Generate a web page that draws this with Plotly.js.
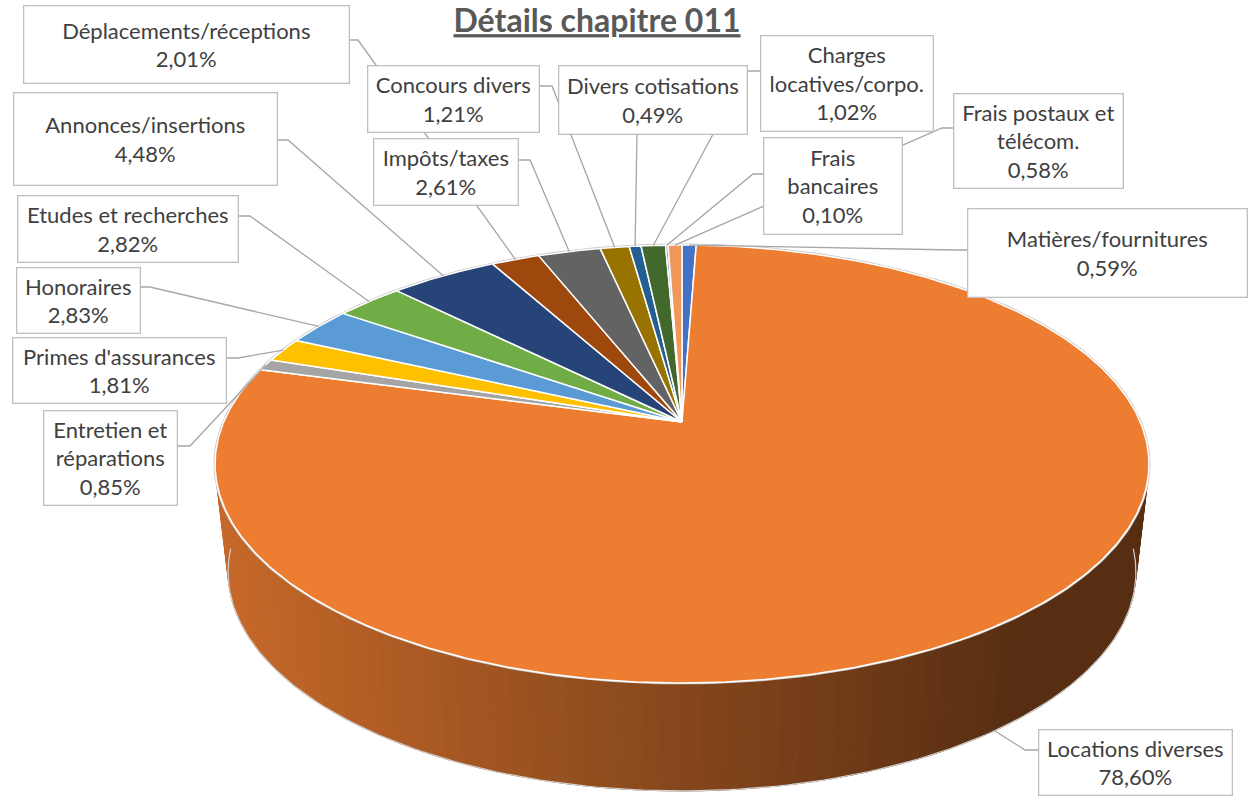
<!DOCTYPE html>
<html><head><meta charset="utf-8">
<script src="https://cdn.plot.ly/plotly-3.0.1.min.js"></script>
<style>html,body{margin:0;padding:0;background:#fff;overflow:hidden}#chart{width:1249px;height:801px}</style>
</head><body><div id="chart"></div>
<script>
// ---------- data ----------
const chartTitle = "Détails chapitre 011";
const categories = ["Matières/fournitures","Locations diverses","Entretien et réparations","Primes d'assurances","Honoraires","Etudes et recherches","Annonces/insertions","Déplacements/réceptions","Impôts/taxes","Concours divers","Divers cotisations","Charges locatives/corpo.","Frais bancaires","Frais postaux et télécom."];
const values = [0.59,78.60,0.85,1.81,2.83,2.82,4.48,2.01,2.61,1.21,0.49,1.02,0.10,0.58];
const colors = ["#4472C4","#ED7D31","#A5A5A5","#FFC000","#5B9BD5","#70AD47","#264478","#9E480E","#636363","#997300","#255E91","#43682B","#698ED0","#F1975A"];

// ---------- layout / geometry (pixel-like axis units) ----------
const W = 1249, H = 801;
const PIE = {cx:682, cy:422, A:458.3, B:-210.9, k:0.1918, depth:108, bottomScale:0.972};
// label boxes: [x0,x1,y0,y1], anchor point on box, elbow point, wrap width (chars)
const boxes = [
 {b:[967,1247,208,297], a:[967,250], e:[955,250], w:40},
 {b:[1038,1232,729,795], a:[1038,750], e:[1025,750], w:40},
 {b:[43,177,410,505], a:[177,446], e:[190,446], w:12},
 {b:[12,226,337,403], a:[226,358], e:[238,358], w:40},
 {b:[16,140,267,333], a:[140,287], e:[150,287], w:40},
 {b:[17,238,195,262], a:[238,216], e:[250,216], w:40},
 {b:[13,277,92,185], a:[277,140], e:[288,140], w:40},
 {b:[23,349,5,83], a:[349,40], e:[358,40], w:40},
 {b:[373,518,138,205], a:[518,160], e:[530,160], w:40},
 {b:[367,539,65,132], a:[539,86], e:[552,86], w:40},
 {b:[558,747,65,134], a:[637,134], e:[637,134], w:40},
 {b:[760,933,35,131], a:[760,71], e:[747,71], w:16},
 {b:[763,902,137,234], a:[763,174], e:[753,174], w:9},
 {b:[953,1123,93,188], a:[953,128], e:[942,128], w:16}
];
const FONT = "Lato, 'Open Sans', sans-serif";
const TEXTCOL = "#404040";

// ---------- helpers ----------
function proj(deg, bottom){
  const t = deg*Math.PI/180, X = Math.sin(t), Z = Math.cos(t);
  const w = 1 + PIE.k*Z;
  let u = PIE.A*X/w, v = PIE.B*Z/w;
  if (bottom){ u *= PIE.bottomScale; v += PIE.depth; }
  return [PIE.cx+u, PIE.cy+v];
}
function hexToRgb(h){ return [parseInt(h.slice(1,3),16),parseInt(h.slice(3,5),16),parseInt(h.slice(5,7),16)]; }
function shade(h,f){ const c=hexToRgb(h).map(v=>Math.max(0,Math.min(255,Math.round(v*f)))); return `rgb(${c[0]},${c[1]},${c[2]})`; }
function fmt(v){ return v.toFixed(2).replace('.',',')+'%'; }
function wrap(s,n){
  const words=s.split(' '); const lines=[]; let cur='';
  words.forEach(wd=>{ if(!cur) cur=wd; else if((cur+' '+wd).length<=n) cur+=' '+wd; else {lines.push(cur); cur=wd;} });
  if(cur) lines.push(cur); return lines.join('<br>');
}

const total = values.reduce((a,b)=>a+b,0);
const starts=[], ends=[];
let acc=0;
values.forEach(v=>{ starts.push(acc/total*360); acc+=v; ends.push(acc/total*360); });
function colorAt(deg){
  deg=((deg%360)+360)%360;
  for(let i=0;i<values.length;i++) if(deg>=starts[i] && deg<ends[i]) return colors[i];
  return colors[colors.length-1];
}

const traces=[];
// ---------- side (extrusion) strips ----------
const strips=[];
for(let d=60; d<300; d+=2){
  const p1=proj(d,false), p2=proj(d+2,false), p3=proj(d+2,true), p4=proj(d,true);
  const mx=(p1[0]+p2[0]+p3[0]+p4[0])/4;
  const f=Math.max(0.37,Math.min(0.86,0.84-0.00059*(mx-216)));
  const col=shade(colorAt(d+1),f);
  strips.push({z:Math.cos((d+1)*Math.PI/180), x:[p1[0],p2[0],p3[0],p4[0],p1[0]], y:[p1[1],p2[1],p3[1],p4[1],p1[1]], col});
}
strips.sort((a,b)=>b.z-a.z);
strips.forEach(s=>traces.push({type:'scatter',mode:'lines',x:s.x,y:s.y,fill:'toself',fillcolor:s.col,line:{color:s.col,width:1},hoverinfo:'skip',showlegend:false}));

// outer light-gray silhouette along the bottom front
(function(){
  const xs=[],ys=[];
  for(let d=95; d<=265; d+=1){ const p=proj(d,true); xs.push(p[0]); ys.push(p[1]); }
  traces.push({type:'scatter',mode:'lines',x:xs,y:ys,line:{color:'#D0D0D0',width:1.2},hoverinfo:'skip',showlegend:false});
})();
// gray halo around top rim
(function(){
  const xs=[],ys=[];
  for(let d=0; d<=360; d+=1){ const p=proj(d,false); xs.push(p[0]); ys.push(p[1]); }
  traces.push({type:'scatter',mode:'lines',x:xs,y:ys,line:{color:'#C8C8C8',width:3},hoverinfo:'skip',showlegend:false});
})();

// ---------- top face slices ----------
values.forEach((v,i)=>{
  const xs=[PIE.cx], ys=[PIE.cy];
  const n=Math.max(2,Math.ceil((ends[i]-starts[i])/0.5));
  for(let j=0;j<=n;j++){ const p=proj(starts[i]+(ends[i]-starts[i])*j/n,false); xs.push(p[0]); ys.push(p[1]); }
  xs.push(PIE.cx); ys.push(PIE.cy);
  traces.push({type:'scatter',mode:'lines',name:categories[i],x:xs,y:ys,fill:'toself',fillcolor:colors[i],line:{color:'#FFFFFF',width:1.5},hoverinfo:'skip',showlegend:false});
});

// ---------- leader lines ----------
const lx=[], ly=[];
values.forEach((v,i)=>{
  const mid=(starts[i]+ends[i])/2;
  const front = Math.cos(mid*Math.PI/180) < -PIE.k;
  const p=proj(mid, front);
  const bx=boxes[i];
  lx.push(bx.a[0],bx.e[0],p[0],null); ly.push(bx.a[1],bx.e[1],p[1],null);
});
traces.push({type:'scatter',mode:'lines',x:lx,y:ly,line:{color:'#A6A6A6',width:1.3},hoverinfo:'skip',showlegend:false,connectgaps:false});

// ---------- label boxes ----------
const annotations = values.map((v,i)=>{
  const b=boxes[i].b;
  return {xref:'x',yref:'y',x:(b[0]+b[1])/2,y:(b[2]+b[3])/2,xanchor:'center',yanchor:'middle',
    text: wrap(categories[i],boxes[i].w)+'<br>'+fmt(v), showarrow:false,
    width:b[1]-b[0]-2, height:b[3]-b[2]-2, align:'center', valign:'middle',
    bgcolor:'#FFFFFF', bordercolor:'#BFBFBF', borderwidth:1.3, borderpad:0,
    font:{family:FONT,size:22,color:TEXTCOL}};
});

const layout = {
  width:W, height:H, margin:{l:0,r:0,t:0,b:0}, paper_bgcolor:'#FFFFFF', plot_bgcolor:'#FFFFFF',
  title:{text:'<b><u>'+chartTitle+'</u></b>', x:597/W, xanchor:'center', y:1-21/H, yanchor:'middle', font:{family:FONT,size:32,color:'#595959'}},
  xaxis:{range:[0,W],visible:false,fixedrange:true},
  yaxis:{range:[H,0],visible:false,fixedrange:true},
  showlegend:false, hovermode:false, annotations
};
Plotly.newPlot('chart',traces,layout,{staticPlot:true,displayModeBar:false});
</script>
</body></html>
